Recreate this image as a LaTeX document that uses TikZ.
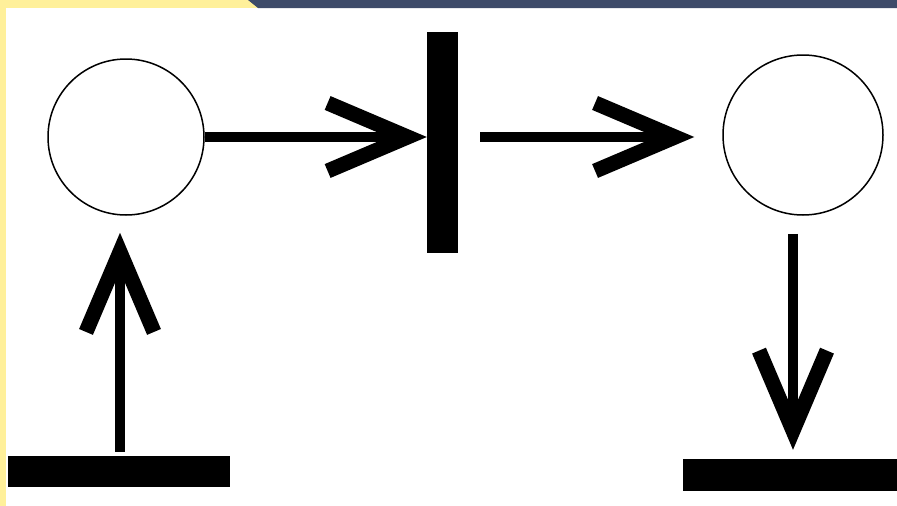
\documentclass[tikz,border=0pt]{standalone}
\usepackage{tikz}
\usetikzlibrary{arrows.meta,positioning}
\definecolor{bandyellow}{HTML}{FFF09A}
\definecolor{bandblue}  {HTML}{3D4B69}

\begin{document}
\begin{tikzpicture}[
  place/.style={draw,circle,line width=1.5pt,minimum size=156pt,inner sep=0pt},
  bar/.style={fill=black,draw=none,inner sep=0pt},
  arc/.style={line width=10pt,
              -{Straight Barb[length=80pt,width=68pt,line width=15pt]}},
  x=1pt, y=-1pt
]
%% Rahmen: weisse Flaeche, gelber Rand links/oben, blaues Band oben rechts
\useasboundingbox (0,0) rectangle (897,506);
\fill[white] (0,0) rectangle (897,506);
\fill[bandyellow] (0,0) rectangle (6,506);
\fill[bandyellow] (0,0) rectangle (260,8);
\fill[bandblue] (248,0) -- (897,0) -- (897,8) -- (258,8) -- cycle;

%% Stellen und Transitionen
\node[place]                     (p1) at (126,137)   {};
\node[place,minimum size=160pt]  (p2) at (803,135)   {};
\node[bar,minimum width=31pt,minimum height=221pt]  (t1) at (442.5,142.5) {};
\node[bar,minimum width=222pt,minimum height=31pt]  (t0) at (119,471.5)   {};
\node[bar,minimum width=214pt,minimum height=32pt]  (t2) at (790,475)     {};

%% Kanten
\draw[arc,shorten >=17pt,shorten <=4pt] (t0.north -| 120,0) -- (p1.south -| 120,0);
\draw[arc] (p1.east) -- (t1.west |- p1.east);
\draw[arc,shorten <=22pt,shorten >=28pt] (t1.east |- 0,137) -- (p2.west |- 0,137);
\draw[arc,shorten <=18pt,shorten >=9pt] (p2.south -| 793,0) -- (t2.north -| 793,0);

\end{tikzpicture}
\end{document}
